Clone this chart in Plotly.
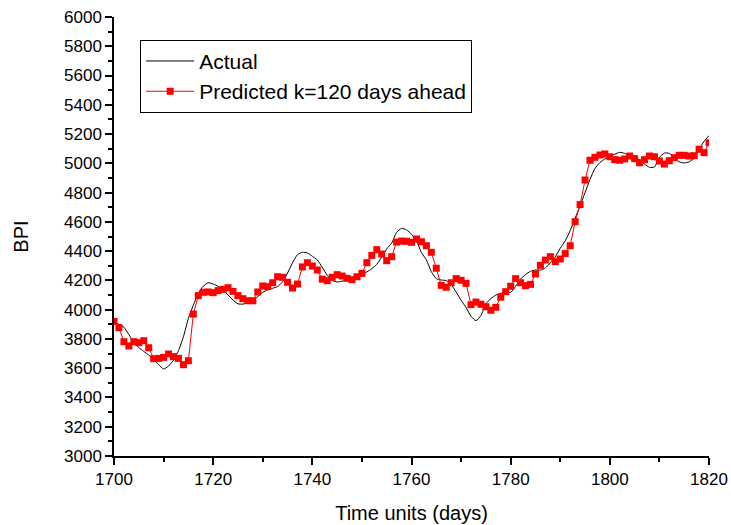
import plotly.graph_objects as go

days = list(range(1700, 1821))

actual = [
    3915, 3900, 3880, 3830, 3775, 3740, 3715, 3690, 3660, 3625,
    3595, 3615, 3655, 3720, 3815, 3940, 4030, 4110, 4160, 4184,
    4175, 4160, 4135, 4100, 4066, 4040, 4038, 4050, 4066, 4090,
    4118, 4135, 4146, 4158, 4190, 4250, 4320, 4375, 4392, 4388,
    4365, 4340, 4290, 4235, 4200, 4189, 4195, 4200, 4210, 4225,
    4245, 4258, 4280, 4310, 4360, 4415, 4455, 4528, 4555, 4545,
    4515, 4470, 4390, 4340, 4260, 4212, 4203, 4198, 4172, 4120,
    4065, 4015, 3955, 3925, 3960, 4040, 4075, 4100, 4112, 4120,
    4118, 4160, 4210, 4240, 4262, 4271, 4271, 4285, 4320, 4360,
    4420, 4470, 4540, 4625, 4710, 4800, 4890, 4965, 5005, 5030,
    5050, 5063, 5075, 5068, 5052, 5040, 5022, 4995, 4973, 4975,
    5040, 5070, 5068, 5035, 5010, 5003, 5010, 5035, 5095, 5150,
    5190,
]

predicted = [
    3920, 3877, 3781, 3752, 3781, 3774, 3788, 3740, 3665, 3667,
    3674, 3697, 3679, 3667, 3624, 3651, 3970, 4096, 4119, 4121,
    4116, 4130, 4139, 4150, 4125, 4096, 4075, 4061, 4061, 4121,
    4162, 4157, 4184, 4225, 4221, 4187, 4148, 4175, 4292, 4321,
    4298, 4271, 4208, 4198, 4221, 4239, 4230, 4214, 4205, 4225,
    4248, 4321, 4371, 4410, 4380, 4335, 4362, 4462, 4469, 4467,
    4460, 4483, 4464, 4437, 4392, 4283, 4166, 4153, 4184, 4212,
    4201, 4180, 4034, 4052, 4037, 4020, 3996, 4016, 4085, 4123,
    4160, 4212, 4184, 4164, 4173, 4244, 4303, 4339, 4362, 4328,
    4346, 4383, 4437, 4601, 4718, 4886, 5021, 5041, 5057, 5064,
    5045, 5025, 5021, 5030, 5050, 5032, 5004, 5025, 5050, 5045,
    5016, 4995, 5018, 5039, 5055, 5055, 5050, 5052, 5096, 5073,
    5141,
]

FONT = "Arial, Liberation Sans, sans-serif"

fig = go.Figure()
fig.add_trace(go.Scatter(
    x=days, y=actual, mode="lines", name="Actual",
    line=dict(color="black", width=1, shape="spline", smoothing=0.6),
))
fig.add_trace(go.Scatter(
    x=days, y=predicted, mode="lines+markers",
    name="Predicted k=120 days ahead",
    line=dict(color="#ff0000", width=1),
    marker=dict(symbol="square", size=7, color="#ff0000"),
))

axis_common = dict(
    showgrid=False, zeroline=False, showline=True, linecolor="black",
    linewidth=1.5, ticks="outside", ticklen=7, tickwidth=1.5,
    tickcolor="black", mirror=False, automargin=False,
    tickfont=dict(family=FONT, size=17, color="black"),
)

fig.update_layout(
    width=731, height=525,
    margin=dict(l=114, r=22, t=17, b=69),
    paper_bgcolor="white", plot_bgcolor="white",
    font=dict(family=FONT, color="black"),
    xaxis=dict(
        range=[1700, 1820], tick0=1700, dtick=20,
        title=dict(text="Time units (days)", font=dict(family=FONT, size=20), standoff=18),
        minor=dict(dtick=10, tick0=1700, ticks="outside", ticklen=4, tickwidth=1.5, tickcolor="black"),
        **axis_common,
    ),
    yaxis=dict(
        range=[3000, 6000], tick0=3000, dtick=200,
        title=dict(text="BPI", font=dict(family=FONT, size=20), standoff=30),
        minor=dict(dtick=100, tick0=3000, ticks="outside", ticklen=4, tickwidth=1.5, tickcolor="black"),
        **axis_common,
    ),
    showlegend=True,
    legend=dict(
        x=0.044, y=0.948, xanchor="left", yanchor="top",
        bgcolor="white", bordercolor="black", borderwidth=1,
        font=dict(family=FONT, size=21, color="black"),
        tracegroupgap=0, itemwidth=48,
    ),
)

fig.write_html("out.html")
